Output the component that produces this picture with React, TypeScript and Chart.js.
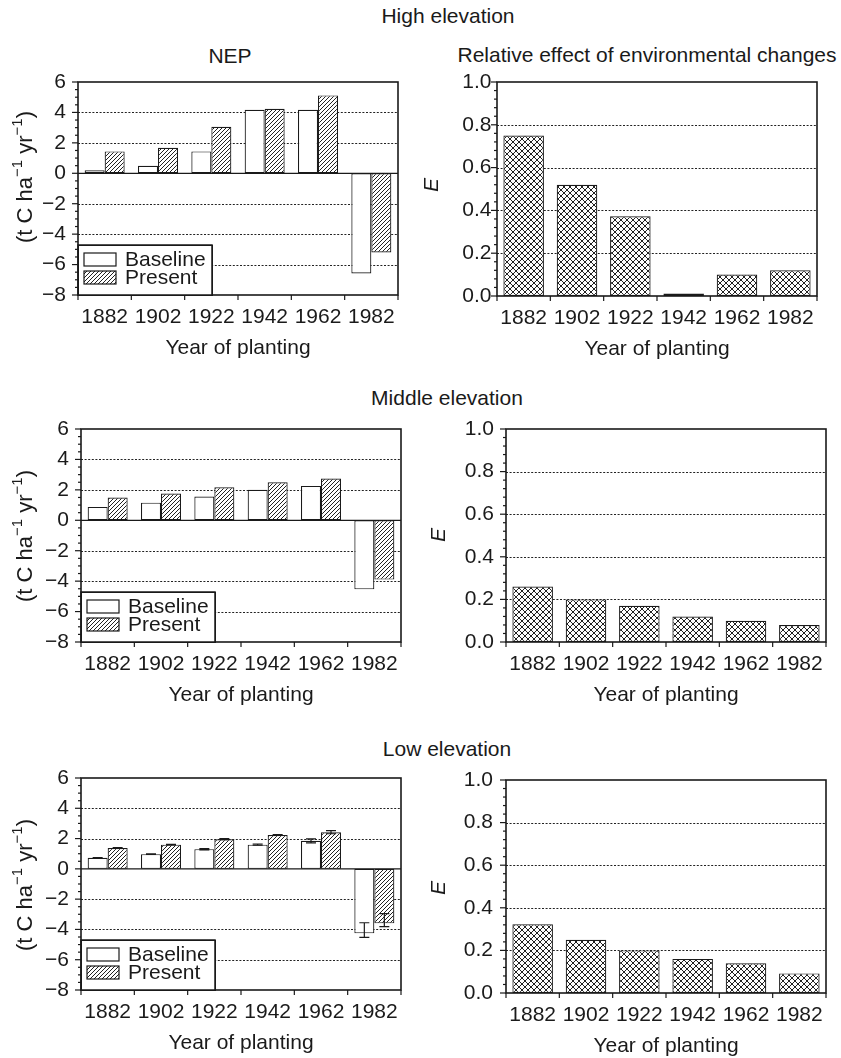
import React, { useEffect, useRef } from 'react';
import { Chart, registerables } from 'chart.js';

Chart.register(...registerables);

// ---------------- data ----------------
const YEARS = ['1882', '1902', '1922', '1942', '1962', '1982'];

const HIGH_BASELINE = [0.2, 0.5, 1.44, 4.18, 4.18, -6.59];
const HIGH_PRESENT = [1.44, 1.68, 3.06, 4.24, 5.12, -5.2];
const HIGH_E = [0.75, 0.52, 0.373, 0.012, 0.1, 0.12];

const MIDDLE_BASELINE = [0.88, 1.16, 1.56, 2.0, 2.26, -4.54];
const MIDDLE_PRESENT = [1.49, 1.76, 2.17, 2.5, 2.74, -3.9];
const MIDDLE_E = [0.26, 0.2, 0.17, 0.12, 0.1, 0.08];

const LOW_BASELINE = [0.73, 0.97, 1.3, 1.6, 1.85, -4.26];
const LOW_PRESENT = [1.38, 1.6, 1.96, 2.24, 2.42, -3.6];
const LOW_BASELINE_ERR_LO = [0.71, 0.95, 1.25, 1.56, 1.72, -4.53];
const LOW_BASELINE_ERR_HI = [0.75, 0.99, 1.33, 1.64, 1.98, -3.56];
const LOW_PRESENT_ERR_LO = [1.36, 1.58, 1.93, 2.21, 2.32, -3.82];
const LOW_PRESENT_ERR_HI = [1.4, 1.62, 1.99, 2.27, 2.52, -2.95];
const LOW_E = [0.323, 0.25, 0.2, 0.16, 0.14, 0.092];

const NEP_RANGE = [-8, 6];
const NEP_GRID = [-6, -4, -2, 2, 4];
const E_RANGE = [0, 1];
const E_GRID = [0.2, 0.4, 0.6, 0.8];

const SERIES_LABELS = ['Baseline', 'Present'];
const X_TITLE = 'Year of planting';

// ---------------- style / layout ----------------
const FONT = "'Liberation Sans', Arial, Helvetica, sans-serif";
const INK = '#1a1a1a';
const PAD_L = 80;
const PAD_T = 30;
const PAD_R = 20;
const PAD_B = 70;

type Area = { l: number; t: number; w: number; h: number };
type PanelCfg = {
  kind: 'nep' | 'e';
  area: Area;
  series: number[][];
  errLo?: number[][];
  errHi?: number[][];
  yTitleAt: { x: number; y: number };
  tickPad: number;
};

const PANELS: PanelCfg[] = [
  { kind: 'nep', area: { l: 78, t: 82, w: 320, h: 213 }, series: [HIGH_BASELINE, HIGH_PRESENT], yTitleAt: { x: 26, y: 177 }, tickPad: 12 },
  { kind: 'e', area: { l: 497, t: 82, w: 320, h: 214 }, series: [HIGH_E], yTitleAt: { x: 432, y: 185 }, tickPad: 5.5 },
  { kind: 'nep', area: { l: 81, t: 429, w: 320, h: 213 }, series: [MIDDLE_BASELINE, MIDDLE_PRESENT], yTitleAt: { x: 26, y: 536 }, tickPad: 12 },
  { kind: 'e', area: { l: 506, t: 429, w: 320, h: 213 }, series: [MIDDLE_E], yTitleAt: { x: 439, y: 535 }, tickPad: 12 },
  {
    kind: 'nep', area: { l: 81, t: 778, w: 320, h: 212 }, series: [LOW_BASELINE, LOW_PRESENT],
    errLo: [LOW_BASELINE_ERR_LO, LOW_PRESENT_ERR_LO], errHi: [LOW_BASELINE_ERR_HI, LOW_PRESENT_ERR_HI],
    yTitleAt: { x: 26, y: 885 }, tickPad: 12,
  },
  { kind: 'e', area: { l: 506, t: 780, w: 320, h: 213 }, series: [LOW_E], yTitleAt: { x: 439, y: 888 }, tickPad: 13 },
];

const TITLES = [
  { text: 'High elevation', x: 448, y: 15.5 },
  { text: 'NEP', x: 230, y: 56 },
  { text: 'Relative effect of environmental changes', x: 647, y: 55 },
  { text: 'Middle elevation', x: 447, y: 397.5 },
  { text: 'Low elevation', x: 447, y: 748.5 },
];

function makePattern(size: number, cross: boolean): CanvasPattern | string {
  const c = document.createElement('canvas');
  c.width = size;
  c.height = size;
  const g = c.getContext('2d');
  if (!g) return '#999';
  g.fillStyle = '#ffffff';
  g.fillRect(0, 0, size, size);
  g.strokeStyle = '#222';
  g.lineWidth = 1;
  g.beginPath();
  // "/" direction
  g.moveTo(-1, size + 1);
  g.lineTo(size + 1, -1);
  g.moveTo(-1, 1);
  g.lineTo(1, -1);
  g.moveTo(size - 1, size + 1);
  g.lineTo(size + 1, size - 1);
  if (cross) {
    g.moveTo(-1, -1);
    g.lineTo(size + 1, size + 1);
    g.moveTo(size - 1, -1);
    g.lineTo(size + 1, 1);
    g.moveTo(-1, size - 1);
    g.lineTo(1, size + 1);
  }
  g.stroke();
  return g.createPattern(c, 'repeat') || '#999';
}

function fmtTick(v: number, isNep: boolean): string {
  if (isNep) {
    const r = Math.round(v);
    return r < 0 ? '\u2212' + Math.abs(r) : String(r);
  }
  return (Math.round(v * 10) / 10).toFixed(1);
}

function buildConfig(cfg: PanelCfg): any {
  const isNep = cfg.kind === 'nep';
  const hatch = makePattern(4, false);
  const cross = makePattern(6, true);
  const common = {
    borderColor: INK,
    borderWidth: 1.2,
    borderSkipped: false,
    categoryPercentage: isNep ? 0.75 : 0.76,
    barPercentage: 1,
  };
  const datasets = isNep
    ? [
        { label: SERIES_LABELS[0], data: cfg.series[0], backgroundColor: '#ffffff', ...common },
        { label: SERIES_LABELS[1], data: cfg.series[1], backgroundColor: hatch, ...common },
      ]
    : [{ label: 'E', data: cfg.series[0], backgroundColor: cross, ...common }];

  const [yMin, yMax] = isNep ? NEP_RANGE : E_RANGE;
  const majorStep = isNep ? 2 : 0.2;
  const minorPerMajor = isNep ? 4 : 5;
  const grid = isNep ? NEP_GRID : E_GRID;
  const font = { family: FONT, size: 21 };

  const offX = cfg.area.l - PAD_L;
  const offY = cfg.area.t - PAD_T;

  const decor = {
    id: 'decor',
    beforeDatasetsDraw(chart: any) {
      const { ctx, chartArea: a } = chart;
      const y = chart.scales.y;
      ctx.save();
      ctx.strokeStyle = '#222';
      ctx.lineWidth = 1;
      ctx.setLineDash([2, 1.6]);
      for (const v of grid) {
        const py = Math.round(y.getPixelForValue(v)) + 0.5;
        ctx.beginPath();
        ctx.moveTo(a.left, py);
        ctx.lineTo(a.right, py);
        ctx.stroke();
      }
      ctx.restore();
    },
    afterDatasetsDraw(chart: any) {
      const { ctx, chartArea: a } = chart;
      const x = chart.scales.x;
      const y = chart.scales.y;
      ctx.save();
      ctx.strokeStyle = INK;
      ctx.setLineDash([]);

      // zero line
      if (isNep) {
        const py = y.getPixelForValue(0);
        ctx.lineWidth = 1.3;
        ctx.beginPath();
        ctx.moveTo(a.left, py);
        ctx.lineTo(a.right, py);
        ctx.stroke();
      }

      // error bars
      if (cfg.errLo && cfg.errHi) {
        ctx.lineWidth = 1.2;
        for (let di = 0; di < cfg.errLo.length; di++) {
          const meta = chart.getDatasetMeta(di);
          cfg.errLo[di].forEach((lo, i) => {
            const hi = cfg.errHi![di][i];
            const el = meta.data[i];
            if (!el) return;
            const px = el.x;
            const p1 = y.getPixelForValue(lo);
            const p2 = y.getPixelForValue(hi);
            ctx.beginPath();
            ctx.moveTo(px, p1);
            ctx.lineTo(px, p2);
            ctx.moveTo(px - 5, p1);
            ctx.lineTo(px + 5, p1);
            ctx.moveTo(px - 5, p2);
            ctx.lineTo(px + 5, p2);
            ctx.stroke();
          });
        }
      }

      // frame
      ctx.lineWidth = 1.6;
      ctx.strokeRect(a.left, a.top, a.right - a.left, a.bottom - a.top);

      // y ticks (major + minor, outside)
      ctx.lineWidth = 1.2;
      const nMinor = Math.round((yMax - yMin) / majorStep) * minorPerMajor;
      for (let i = 0; i <= nMinor; i++) {
        const v = yMin + (i * majorStep) / minorPerMajor;
        const py = y.getPixelForValue(v);
        const len = i % minorPerMajor === 0 ? 6 : 3;
        ctx.beginPath();
        ctx.moveTo(a.left - len, py);
        ctx.lineTo(a.left, py);
        ctx.stroke();
      }
      // x ticks at category boundaries
      for (let k = 0; k <= YEARS.length; k++) {
        const px = x.getPixelForValue(k - 0.5);
        ctx.beginPath();
        ctx.moveTo(px, a.bottom);
        ctx.lineTo(px, a.bottom + 5);
        ctx.stroke();
      }

      // legend
      if (isNep) {
        const lx = a.left;
        const lb = a.bottom;
        ctx.fillStyle = '#ffffff';
        ctx.fillRect(lx, lb - 50, 134, 50);
        ctx.lineWidth = 1;
        ctx.strokeRect(lx + 0.5, lb - 50 + 0.5, 134, 50);
        ctx.lineWidth = 1.5;
        ctx.strokeRect(lx, lb - 50, 134, 50);
        ctx.lineWidth = 1.2;
        ctx.fillStyle = '#ffffff';
        ctx.fillRect(lx + 6, lb - 42, 32, 13);
        ctx.strokeRect(lx + 6, lb - 42, 32, 13);
        ctx.fillStyle = hatch as any;
        ctx.fillRect(lx + 6, lb - 24, 32, 13);
        ctx.strokeRect(lx + 6, lb - 24, 32, 13);
        ctx.fillStyle = INK;
        ctx.font = `21px ${FONT}`;
        ctx.textAlign = 'left';
        ctx.textBaseline = 'middle';
        ctx.fillText(SERIES_LABELS[0], lx + 47, lb - 35);
        ctx.fillText(SERIES_LABELS[1], lx + 47, lb - 17);
      }

      // y title
      const cx = cfg.yTitleAt.x - offX;
      const cy = cfg.yTitleAt.y - offY;
      ctx.translate(cx, cy);
      ctx.rotate(-Math.PI / 2);
      ctx.fillStyle = INK;
      ctx.textBaseline = 'middle';
      ctx.textAlign = 'left';
      if (isNep) {
        const segs = [
          { t: '(t C ha', sup: false },
          { t: '\u22121', sup: true },
          { t: ' yr', sup: false },
          { t: '\u22121', sup: true },
          { t: ')', sup: false },
        ];
        const mainFont = `22px ${FONT}`;
        const supFont = `15px ${FONT}`;
        let total = 0;
        const widths = segs.map((s) => {
          ctx.font = s.sup ? supFont : mainFont;
          const w = ctx.measureText(s.t).width;
          total += w;
          return w;
        });
        let px = -total / 2;
        segs.forEach((s, i) => {
          ctx.font = s.sup ? supFont : mainFont;
          ctx.fillText(s.t, px, s.sup ? -8 : 0);
          px += widths[i];
        });
      } else {
        ctx.font = `italic 21px ${FONT}`;
        ctx.textAlign = 'center';
        ctx.fillText('E', 0, 0);
      }
      ctx.restore();
    },
  };

  return {
    type: 'bar',
    data: { labels: YEARS, datasets },
    options: {
      responsive: false,
      maintainAspectRatio: false,
      animation: false,
      events: [],
      layout: { padding: { left: 0, top: PAD_T, right: PAD_R, bottom: 0 } },
      plugins: { legend: { display: false }, tooltip: { enabled: false }, title: { display: false } },
      scales: {
        x: {
          type: 'category',
          offset: true,
          grid: { display: false, drawTicks: false },
          border: { display: false },
          ticks: { font, color: INK, padding: 10, autoSkip: false, maxRotation: 0, minRotation: 0 },
          title: { display: true, text: X_TITLE, font, color: INK, padding: { top: 0, bottom: 4.4 } },
          afterFit(s: any) {
            s.height = PAD_B;
          },
        },
        y: {
          min: yMin,
          max: yMax,
          grid: { display: false, drawTicks: false },
          border: { display: false },
          ticks: {
            stepSize: majorStep,
            font,
            color: INK,
            padding: cfg.tickPad,
            callback: (v: any) => fmtTick(Number(v), isNep),
          },
          afterFit(s: any) {
            s.width = PAD_L;
          },
        },
      },
    },
    plugins: [decor],
  };
}

function Panel({ cfg }: { cfg: PanelCfg }) {
  const ref = useRef<HTMLCanvasElement>(null);
  const W = PAD_L + cfg.area.w + PAD_R;
  const H = PAD_T + cfg.area.h + PAD_B;
  useEffect(() => {
    if (!ref.current) return;
    const chart = new Chart(ref.current, buildConfig(cfg));
    return () => chart.destroy();
  }, [cfg]);
  return (
    <canvas
      ref={ref}
      width={W}
      height={H}
      style={{ position: 'absolute', left: cfg.area.l - PAD_L, top: cfg.area.t - PAD_T, width: W, height: H }}
    />
  );
}

export default function App() {
  return (
    <div
      style={{
        position: 'absolute',
        left: 0,
        top: 0,
        width: 841,
        height: 1058,
        overflow: 'hidden',
        background: '#ffffff',
        fontFamily: FONT,
        color: INK,
      }}
    >
      {TITLES.map((t) => (
        <div
          key={t.text}
          style={{
            position: 'absolute',
            left: t.x,
            top: t.y,
            transform: 'translate(-50%, -50%)',
            whiteSpace: 'nowrap',
            fontSize: 21,
            lineHeight: 'normal',
          }}
        >
          {t.text}
        </div>
      ))}
      {PANELS.map((p, i) => (
        <Panel key={i} cfg={p} />
      ))}
    </div>
  );
}
